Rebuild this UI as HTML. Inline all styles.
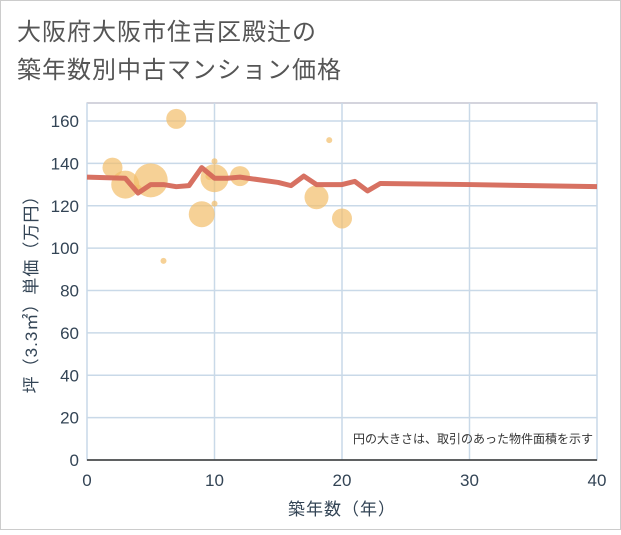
<!DOCTYPE html>
<html><head><meta charset="utf-8"><style>
body{margin:0;background:#fff;}
svg text{font-family:"Liberation Sans","Noto Sans CJK JP",sans-serif;}
</style></head><body>
<svg id="c" width="621" height="530" xmlns="http://www.w3.org/2000/svg">
<rect x="0.5" y="0.5" width="620" height="529" fill="#fff" stroke="#ccc"/>
<text x="17" y="40" font-size="24" fill="#555" letter-spacing="1">大阪府大阪市住吉区殿辻の</text>
<text x="17" y="78" font-size="24" fill="#555" letter-spacing="1">築年数別中古マンション価格</text>
<g id="grid"></g>
<g id="bubbles"></g>
<g id="line"></g>
<g id="axes"></g>
<text x="593" y="443" font-size="12" fill="#333" text-anchor="end">円の大きさは、取引のあった物件面積を示す</text>
<text x="342" y="515" font-size="17" fill="#345" text-anchor="middle" letter-spacing="1">築年数（年）</text>
<text transform="translate(37,290) rotate(-90)" font-size="17" fill="#345" text-anchor="middle" letter-spacing="1">坪（3.3㎡）単価（万円）</text>
</svg>
<script>
const xTicks=[0,10,20,30,40];
const yTicks=[0,20,40,60,80,100,120,140,160];
const bubbleX=[2,3,4,5,6,7,9,9.6,10,10,10,12,18,19,20];
const bubbleY=[138,130,128,132,94,161,116,134,133,141,121,134,124,151,114];
const bubbleR=[10,14,4,17,3,10,13,4,14,3,3,10,12,3,10];
const lineX=[0,3,4,5,6,7,8,9,10,11,12,15,16,17,18,19,20,21,22,23,30,40];
const lineY=[133.5,133,126,130,130,129,129.5,138,133,133,133.5,131,129.5,134,130,130,130,131.5,127,130.5,130,129];
const L=87,R=597,T=103,B=460;
const sx=v=>L+(v-0)/40*(R-L);
const sy=v=>B-v/160*(B-121);
const NS="http://www.w3.org/2000/svg";
function mk(tag,parent,attrs){const e=document.createElementNS(NS,tag);for(const k in attrs)e.setAttribute(k,attrs[k]);parent.appendChild(e);return e;}
const grid=document.getElementById('grid'),axes=document.getElementById('axes');
const bg=mk('rect',grid,{x:L,y:T,width:R-L,height:B-T,fill:'#fff',stroke:'#aab'});


yTicks.forEach(t=>{
 const g=mk('line',grid,{x1:L,x2:R,y1:sy(t),y2:sy(t),stroke:'#c9d9e8','stroke-width':1.5});
 
 
 const tx=mk('text',axes,{x:L-8,y:sy(t)+6,'font-size':17,fill:'#345','text-anchor':'end'});
 tx.textContent=t;
 
 
});
xTicks.forEach(t=>{
 const g=mk('line',grid,{x1:sx(t),x2:sx(t),y1:T,y2:B,stroke:'#c9d9e8','stroke-width':1.5});
 
 
 const tx=mk('text',axes,{x:sx(t),y:B+26,'font-size':17,fill:'#345','text-anchor':'middle'});
 tx.textContent=t;
 
 
});
const xa=mk('line',axes,{x1:L,x2:R,y1:B,y2:B,stroke:'#333','stroke-width':1.5});


const bub=document.getElementById('bubbles');
bubbleX.forEach((x,i)=>{
 const c=mk('circle',bub,{cx:sx(x),cy:sy(bubbleY[i]),r:bubbleR[i],fill:'#f2be6a','fill-opacity':0.7});
 
 
});
const p=mk('polyline',document.getElementById('line'),{points:lineX.map((x,i)=>sx(x)+','+sy(lineY[i])).join(' '),fill:'none',stroke:'#d5695a','stroke-width':5,'stroke-linejoin':'round','stroke-opacity':0.95});


</script>
</body></html>
